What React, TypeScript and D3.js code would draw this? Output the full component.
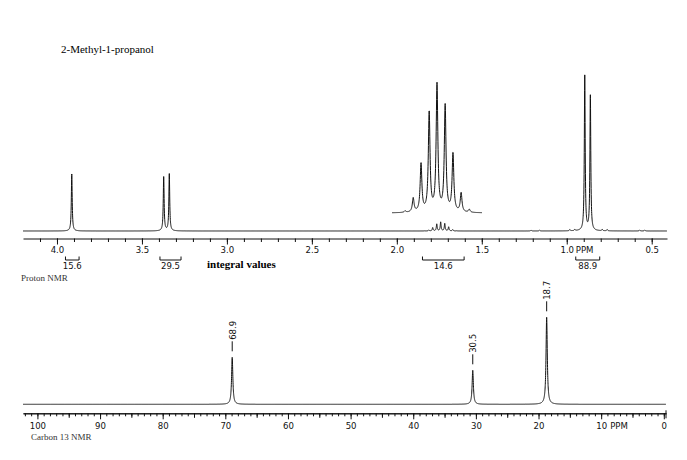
import { useEffect, useRef } from "react";
import * as d3 from "d3";

const WIDTH = 687;
const HEIGHT = 460;

// --- proton spectrum (ppm, peak height in intensity units) ---
const protonPpm = [3.913, 3.372, 3.339, 0.894, 0.861];
const protonHeight = [57, 54, 57, 155, 135];

// small baseline bumps (13C satellites, impurities)
const minorPpm = [1.21, 1.16, 0.982, 0.953, 0.791, 0.762, 0.571, 0.541];
const minorHeight = [0.8, 0.8, 1.2, 1.2, 1.3, 1.3, 1, 1];

// CH multiplet near 1.74 ppm, relative heights as in the expanded inset
const multipletPpm = [1.836, 1.812, 1.789, 1.765, 1.742, 1.718, 1.695, 1.671, 1.647];
const multipletRel = [1.5, 14, 48, 99, 127, 106, 58, 19, 3];
const multipletGain = 0.07; // real trace vs inset

// integrals
const integralFrom = [3.95, 3.394, 1.849, 0.947];
const integralTo = [3.87, 3.27, 1.604, 0.806];
const integralValue = ["15.6", "29.5", "14.6", "88.9"];

const protonMajor = [4.0, 3.5, 3.0, 2.5, 2.0, 1.5, 1.0, 0.5];
const protonLabels = ["4.0", "3.5", "3.0", "2.5", "2.0", "1.5", "1.0", "0.5"];

// --- carbon 13 spectrum ---
const carbonPpm = [68.9, 30.5, 18.7];
const carbonHeight = [47, 34, 87];

const carbonMajor = [100, 90, 80, 70, 60, 50, 40, 30, 20, 10, 0];
const carbonLabels = ["100", "90", "80", "70", "60", "50", "40", "30", "20", "10", "0"];

const TICK_FONT = "'Liberation Sans Narrow', 'DejaVu Sans Condensed', sans-serif";
const SERIF = "'Liberation Serif', 'DejaVu Serif', serif";

const lorentz = (x: number, centers: number[], heights: number[], hw: number) =>
  d3.sum(centers, (c, i) => (heights[i] * hw * hw) / ((x - c) * (x - c) + hw * hw));

export default function App() {
  const svgRef = useRef<SVGSVGElement>(null);

  useEffect(() => {
    if (!svgRef.current) return;
    const svg = d3.select(svgRef.current);
    svg.selectAll("*").remove();

    svg.append("rect").attr("width", WIDTH).attr("height", HEIGHT).attr("fill", "#fff");

    // ---------- proton ----------
    const xH = d3.scaleLinear().domain([4.2, 0.41]).range([23, 667]);
    const yH = d3.scaleLinear().domain([0, 160]).range([231, 71]);
    const hAxisY = 238.5;

    const allPpm = [...protonPpm, ...minorPpm, ...multipletPpm];
    const allHeight = [...protonHeight, ...minorHeight, ...multipletRel.map((v) => v * multipletGain)];
    const hw = 0.003;

    const hPts = d3.range(4.2, 0.41, -0.0005).map((p) => [p, lorentz(p, allPpm, allHeight, hw)] as [number, number]);
    const line = d3
      .line<[number, number]>()
      .x((d) => xH(d[0]))
      .y((d) => yH(d[1]));

    svg
      .append("path")
      .datum(hPts)
      .attr("d", line)
      .attr("fill", "none")
      .attr("stroke", "#111")
      .attr("stroke-width", 1);

    // expanded inset of the multiplet
    const center = multipletPpm[4];
    const xIn = d3.scaleLinear().domain([center + 0.1324, center - 0.1324]).range([392, 482]);
    const yIn = d3.scaleLinear().domain([0, 127]).range([213, 86]);
    const inPts = d3
      .range(center + 0.1324, center - 0.1324, -0.0004)
      .map((p) => [p, lorentz(p, multipletPpm, multipletRel, hw)] as [number, number]);
    svg
      .append("path")
      .datum(inPts)
      .attr(
        "d",
        d3
          .line<[number, number]>()
          .x((d) => xIn(d[0]))
          .y((d) => yIn(d[1]))
      )
      .attr("fill", "none")
      .attr("stroke", "#111")
      .attr("stroke-width", 1);

    // proton axis
    const hMinor = svg.append("g").attr("transform", `translate(0,${hAxisY})`);
    hMinor.call(
      d3
        .axisBottom(xH)
        .tickValues(d3.range(41, 4, -1).map((d) => d / 10))
        .tickSize(3.5)
        .tickSizeOuter(0)
        .tickFormat(() => "")
    );
    const hMajor = svg.append("g").attr("transform", `translate(0,${hAxisY})`);
    hMajor.call(
      d3
        .axisBottom(xH)
        .tickValues(protonMajor)
        .tickSize(6)
        .tickSizeOuter(0)
        .tickPadding(2)
        .tickFormat((d, i) => protonLabels[i])
    );
    hMajor.select(".domain").remove();
    [hMinor, hMajor].forEach((a) => {
      a.selectAll("path, line").attr("stroke", "#111");
      a.selectAll("text").attr("font-family", TICK_FONT).attr("font-size", 9.5).attr("fill", "#111");
    });
    svg
      .append("text")
      .attr("x", xH(1.0) + 9)
      .attr("y", hAxisY + 14.3)
      .attr("font-family", TICK_FONT)
      .attr("font-size", 9.5)
      .attr("fill", "#111")
      .text("PPM");

    // integral brackets
    const integ = svg.append("g");
    integralValue.forEach((v, i) => {
      const x0 = xH(integralFrom[i]);
      const x1 = xH(integralTo[i]);
      integ
        .append("path")
        .attr("d", `M${x0},256.5V260H${x1}V256.5`)
        .attr("fill", "none")
        .attr("stroke", "#111");
      integ
        .append("text")
        .attr("x", (x0 + x1) / 2)
        .attr("y", 268.5)
        .attr("text-anchor", "middle")
        .attr("font-family", TICK_FONT)
        .attr("font-size", 9.5)
        .attr("fill", "#111")
        .text(v);
    });

    svg
      .append("text")
      .attr("x", 207)
      .attr("y", 268)
      .attr("font-family", SERIF)
      .attr("font-weight", "bold")
      .attr("font-size", 11)
      .text("integral values");

    svg
      .append("text")
      .attr("x", 61)
      .attr("y", 52.5)
      .attr("font-family", SERIF)
      .attr("font-size", 11)
      .text("2-Methyl-1-propanol");

    svg
      .append("text")
      .attr("x", 21)
      .attr("y", 281)
      .attr("font-family", SERIF)
      .attr("font-size", 9)
      .attr("fill", "#333")
      .text("Proton NMR");

    // ---------- carbon 13 ----------
    const xC = d3.scaleLinear().domain([102.3, -0.35]).range([23, 666]);
    const yC = d3.scaleLinear().domain([0, 90]).range([404.3, 314.3]);
    const cAxisY = 413.3;

    const cPts = d3
      .range(102.3, -0.35, -0.01)
      .map((p) => [p, lorentz(p, carbonPpm, carbonHeight, 0.12)] as [number, number]);
    svg
      .append("path")
      .datum(cPts)
      .attr(
        "d",
        d3
          .line<[number, number]>()
          .x((d) => xC(d[0]))
          .y((d) => yC(d[1]))
      )
      .attr("fill", "none")
      .attr("stroke", "#111")
      .attr("stroke-width", 1);

    // peak labels
    carbonPpm.forEach((p, i) => {
      const x = xC(p);
      const top = yC(carbonHeight[i]);
      svg
        .append("line")
        .attr("x1", x)
        .attr("x2", x)
        .attr("y1", top - 16)
        .attr("y2", top - 6)
        .attr("stroke", "#111");
      svg
        .append("text")
        .attr("transform", `translate(${x},${top - 27}) rotate(-90)`)
        .attr("text-anchor", "middle")
        .attr("dy", "0.35em")
        .attr("font-family", TICK_FONT)
        .attr("font-size", 9.5)
        .attr("fill", "#111")
        .text(d3.format(".1f")(p));
    });

    const cAxes = [
      { values: d3.range(0, 103), size: 3 },
      { values: d3.range(5, 103, 10), size: 4.5 },
    ].map(({ values, size }) => {
      const a = svg.append("g").attr("transform", `translate(0,${cAxisY})`);
      a.call(d3.axisBottom(xC).tickValues(values).tickSize(size).tickSizeOuter(0).tickFormat(() => ""));
      return a;
    });
    const cMajor = svg.append("g").attr("transform", `translate(0,${cAxisY})`);
    cMajor.call(
      d3
        .axisBottom(xC)
        .tickValues(carbonMajor)
        .tickSize(6)
        .tickSizeOuter(0)
        .tickPadding(3)
        .tickFormat((d, i) => carbonLabels[i])
    );
    cMajor.select(".domain").remove();
    [...cAxes, cMajor].forEach((a) => {
      a.selectAll("path, line").attr("stroke", "#111");
      a.selectAll("text").attr("font-family", TICK_FONT).attr("font-size", 9.5).attr("fill", "#111");
    });
    svg
      .append("line")
      .attr("x1", 666)
      .attr("x2", 666)
      .attr("y1", cAxisY - 3)
      .attr("y2", cAxisY + 5)
      .attr("stroke", "#111");
    svg
      .append("text")
      .attr("x", xC(10) + 9)
      .attr("y", cAxisY + 15.5)
      .attr("font-family", TICK_FONT)
      .attr("font-size", 9.5)
      .attr("fill", "#111")
      .text("PPM");

    svg
      .append("text")
      .attr("x", 31)
      .attr("y", 439.5)
      .attr("font-family", SERIF)
      .attr("font-size", 9)
      .attr("fill", "#333")
      .text("Carbon 13 NMR");
  }, []);

  return (
    <svg
      ref={svgRef}
      width={WIDTH}
      height={HEIGHT}
      style={{ position: "absolute", left: 0, top: 0, display: "block" }}
      role="img"
      aria-label="NMR spectra of 2-Methyl-1-propanol"
    />
  );
}
